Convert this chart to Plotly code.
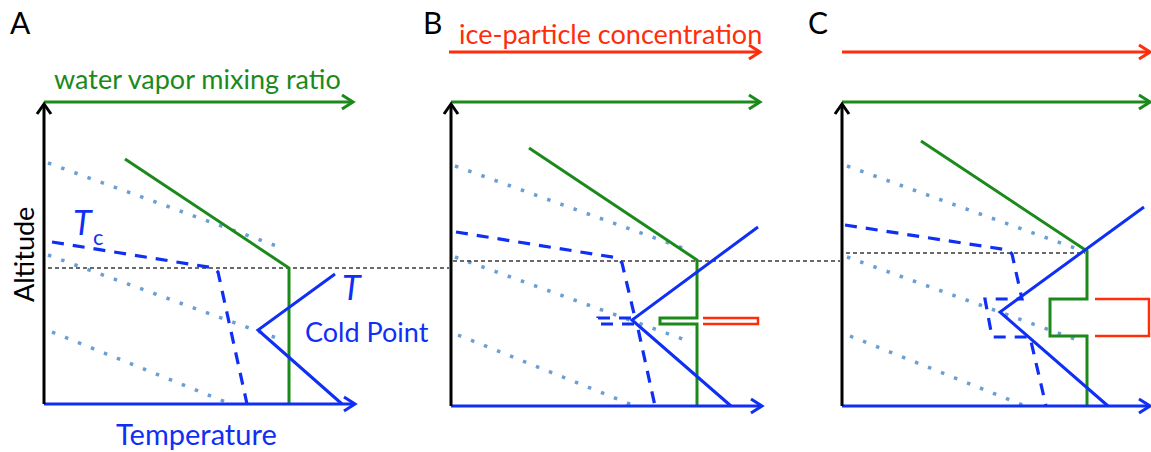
import plotly.graph_objects as go

W, H = 1151, 452

BLUE = "#0f2ff5"
GREEN = "#1b8a1b"
RED = "#ff2d0a"
DOT = "#6b9fd4"
BLACK = "#000000"
FONT = "Lato"

# ---- frame of each panel (A, B, C), in page pixels ----
panel_names = ["A", "B", "C"]
name_x = [20, 432, 818]
axis_x = [44, 451, 842]
axis_top = [104, 104, 104]
base_y = [404, 406, 406]
base_tip = [355, 762, 1150]
wv_y = [102, 102, 102]
wv_tip = [353, 760, 1150]
ice_y = [None, 52, 52]
ice_x0 = [None, 449, 842]
ice_tip = [None, 760, 1150]

# ---- water vapor mixing ratio profiles ----
wv_x = [
    [125, 289, 289],
    [529, 697, 697, 660, 660, 697, 697],
    [921, 1087, 1087, 1050, 1050, 1087, 1087],
]
wv_yv = [
    [159, 268, 404],
    [148, 260, 318, 318, 324, 324, 406],
    [141, 251, 299, 299, 336, 336, 406],
]

# ---- ice-particle concentration layers ----
ice_x = [None, [703, 758, 758, 703], [1095, 1149, 1149, 1095]]
ice_yv = [None, [318, 318, 324, 324], [299, 299, 336, 336]]

# ---- temperature T ----
t_x = [[335, 258, 342], [758, 632, 731], [1144, 1000, 1108]]
t_y = [[274, 330, 404], [227, 320, 406], [207, 312, 406]]

# ---- condensation temperature Tc ----
tc_x = [
    [52, 214, 218, 247],
    [456, 618, 622, 635, 598, 598, 637, 655],
    [845, 1008, 1012, 1022, 985, 992, 1030, 1046],
]
tc_y = [
    [242, 268, 272, 404],
    [232, 258, 263, 318, 318, 324, 324, 406],
    [225, 250, 254, 299, 299, 337, 337, 406],
]

# ---- saturation mixing-ratio isolines (x0, y0, x1, y1) ----
iso_lines = [
    [(48, 163, 282, 248), (48, 255, 282, 340), (52, 332, 228, 403)],
    [(455, 166, 688, 250), (455, 257, 688, 341), (458, 335, 635, 406)],
    [(847, 166, 1080, 250), (847, 257, 1080, 341), (850, 336, 1025, 406)],
]

# ---- cold-point reference level (x0, x1, y) ----
ref_segments = [(48, 449, 268), (453, 840, 261), (846, 1085, 253)]

fig = go.Figure()


def line(xs, ys, color, width=3, dash="solid"):
    fig.add_trace(go.Scatter(
        x=xs, y=ys, mode="lines", hoverinfo="skip",
        line=dict(color=color, width=width, dash=dash),
    ))


def h_arrow(x0, x1, y, color, width=3, head=11, spread=7):
    line([x0, x1], [y, y], color, width)
    line([x1 - head, x1, x1 - head], [y - spread, y, y + spread], color, width)


def v_arrow(x, y0, y1, color, width=3, head=10, spread=7):
    line([x, x], [y0, y1], color, width)
    line([x - spread, x, x + spread], [y1 + head, y1, y1 + head], color, width)


for i in range(3):
    # isolines (dotted)
    for (x0, y0, x1, y1) in iso_lines[i]:
        line([x0, x1], [y0, y1], DOT, 3.5, "3.5px,10.5px")
    # reference level
    x0, x1, yy = ref_segments[i]
    line([x0, x1], [yy, yy], "#3a3a3a", 1.4, "4px,3px")
    # Tc dashed
    line(tc_x[i], tc_y[i], BLUE, 3.2, "12px,9px")
    # water vapor profile
    line(wv_x[i], wv_yv[i], GREEN, 3)
    # ice layer
    if ice_x[i] is not None:
        line(ice_x[i], ice_yv[i], RED, 2.5)
    # temperature
    line(t_x[i], t_y[i], BLUE, 3)
    # axes
    h_arrow(axis_x[i], base_tip[i], base_y[i], BLUE)
    h_arrow(axis_x[i], wv_tip[i], wv_y[i], GREEN)
    if ice_y[i] is not None:
        h_arrow(ice_x0[i], ice_tip[i], ice_y[i], RED)
    v_arrow(axis_x[i], base_y[i], axis_top[i], BLACK)

annotations = []


def text(x, y, s, color, size, **kw):
    annotations.append(dict(
        x=x, y=y, xref="x", yref="y", text=s, showarrow=False,
        font=dict(family=FONT, size=size, color=color),
        xanchor=kw.pop("xanchor", "center"), yanchor=kw.pop("yanchor", "middle"),
        **kw,
    ))


for nm, nx in zip(panel_names, name_x):
    text(nx, 22, nm, BLACK, 30)

text(197, 78, "water vapor mixing ratio", GREEN, 27)
text(610, 33, "ice-particle concentration", RED, 27)
text(23, 255, "Altitude", BLACK, 27, textangle=-90)
text(196, 433, "Temperature", BLUE, 29, borderpad=0)
text(367, 331, "Cold Point", BLUE, 27)
text(352, 286, "<i>T</i>", BLUE, 34)
text(83, 221, "<i>T</i>", BLUE, 34)
text(98, 236, "c", BLUE, 22)

fig.update_layout(
    width=W, height=H,
    margin=dict(l=0, r=0, t=0, b=0),
    paper_bgcolor="white", plot_bgcolor="white",
    showlegend=False,
    xaxis=dict(range=[0, W], visible=False, fixedrange=True),
    yaxis=dict(range=[H, 0], visible=False, fixedrange=True),
    annotations=annotations,
)

fig.write_html("out.html")
